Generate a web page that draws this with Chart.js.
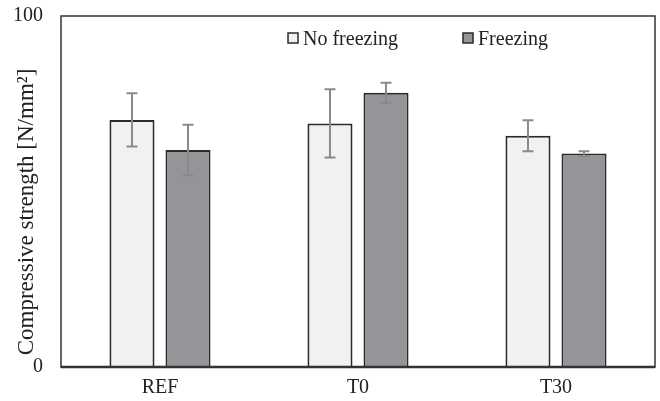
<!DOCTYPE html>
<html>
<head>
<meta charset="utf-8">
<script src="https://cdn.jsdelivr.net/npm/chart.js@4"></script>
<style>
    html, body { margin: 0; padding: 0; background: #fff; }
    #wrap { width: 660px; height: 401px; position: relative; }
</style>
</head>
<body>
<div id="wrap"><canvas id="chart" width="660" height="401"></canvas></div>
<script>
const categories = ['REF', 'T0', 'T30'];
const noFreezing = [70.4, 69.4, 65.9];
const noFreezingErr = [7.6, 9.7, 4.4];
const freezing = [61.8, 78.1, 60.8];
const freezingErr = [7.2, 2.9, 0.7];
const yTicks = [0, 100];

const serif = "'Liberation Serif', 'DejaVu Serif', serif";

// frame round the plot area, thicker bottom line
const framePlugin = {
    id: 'frame',
    afterDraw(chart) {
        const { ctx, chartArea: a } = chart;
        ctx.save();
        ctx.strokeStyle = '#333';
        ctx.lineWidth = 1.5;
        ctx.strokeRect(a.left, a.top, a.right - a.left, a.bottom - a.top);
        ctx.lineWidth = 2.5;
        ctx.beginPath();
        ctx.moveTo(a.left, a.bottom);
        ctx.lineTo(a.right, a.bottom);
        ctx.stroke();
        ctx.restore();
    }
};

// error bars from the err arrays, through the y scale
const errorBarPlugin = {
    id: 'errorBars',
    afterDatasetsDraw(chart) {
        const { ctx } = chart;
        const y = chart.scales.y;
        ctx.save();
        ctx.strokeStyle = '#8a8a8a';
        ctx.lineWidth = 2;
        chart.data.datasets.forEach((ds, i) => {
            const meta = chart.getDatasetMeta(i);
            meta.data.forEach((bar, j) => {
                const v = ds.data[j], e = ds.errors[j];
                const top = y.getPixelForValue(v + e);
                const bot = y.getPixelForValue(v - e);
                const x = bar.x;
                ctx.beginPath();
                ctx.moveTo(x, top); ctx.lineTo(x, bot);
                ctx.moveTo(x - 5.5, top); ctx.lineTo(x + 5.5, top);
                ctx.moveTo(x - 5.5, bot); ctx.lineTo(x + 5.5, bot);
                ctx.stroke();
            });
        });
        ctx.restore();
    }
};

// legend inside the plot, plus the y axis title
const labelsPlugin = {
    id: 'labels',
    afterDraw(chart) {
        const { ctx } = chart;
        ctx.save();
        ctx.font = '20px ' + serif;
        ctx.fillStyle = '#222';
        ctx.textBaseline = 'middle';
        const spots = [288, 463];
        chart.data.datasets.forEach((ds, i) => {
            const x = spots[i];
            ctx.fillStyle = ds.backgroundColor;
            ctx.fillRect(x, 33, 10, 10);
            ctx.strokeStyle = '#2b2b2b';
            ctx.lineWidth = 1.5;
            ctx.strokeRect(x, 33, 10, 10);
            ctx.fillStyle = '#222';
            ctx.textAlign = 'left';
            ctx.fillText(ds.label, x + 15, 40);
        });

        ctx.translate(27, 212);
        ctx.rotate(-Math.PI / 2);
        ctx.textAlign = 'center';
        ctx.font = '23px ' + serif;
        ctx.fillText('Compressive strength [N/mm²]', 0, 0);
        ctx.restore();
    }
};

new Chart(document.getElementById('chart'), {
    type: 'bar',
    data: {
        labels: categories,
        datasets: [{
            label: 'No freezing',
            data: noFreezing,
            errors: noFreezingErr,
            backgroundColor: '#f0f1f3',
            borderColor: '#2b2b2b',
            borderWidth: 2
        }, {
            label: 'Freezing',
            data: freezing,
            errors: freezingErr,
            backgroundColor: '#939598',
            borderColor: '#2b2b2b',
            borderWidth: 2
        }]
    },
    options: {
        responsive: false,
        animation: false,
        devicePixelRatio: 1,
        categoryPercentage: 0.566,
        barPercentage: 0.804,
        layout: { padding: { top: 16, right: 5, left: 0, bottom: 0 } },
        plugins: {
            legend: { display: false },
            tooltip: { enabled: false }
        },
        scales: {
            x: {
                grid: { display: false },
                border: { display: false },
                ticks: { color: '#222', font: { family: serif, size: 20 }, padding: 1 },
                afterFit: s => { s.height = 34; }
            },
            y: {
                min: 0,
                max: 100,
                grid: { display: false },
                border: { display: false },
                afterBuildTicks: s => { s.ticks = yTicks.map(v => ({ value: v })); },
                ticks: { color: '#222', font: { family: serif, size: 20 }, padding: 10 },
                afterFit: s => { s.width = 61; s.paddingTop = 0; s.paddingBottom = 0; }
            }
        }
    },
    plugins: [errorBarPlugin, framePlugin, labelsPlugin]
});
</script>
</body>
</html>
